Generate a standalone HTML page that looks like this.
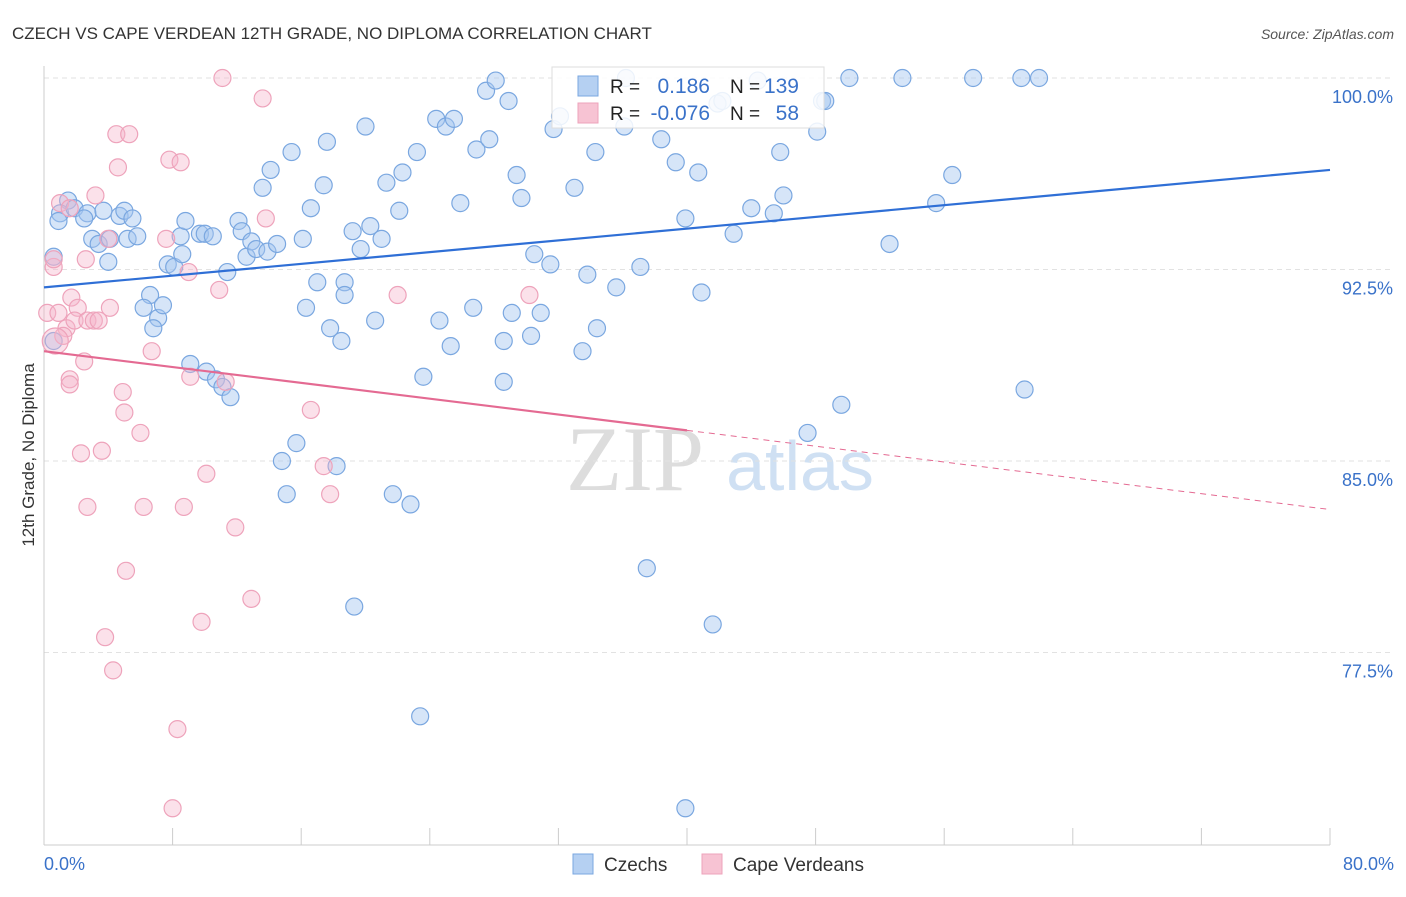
<!DOCTYPE html>
<html><head><meta charset="utf-8"><style>
body{margin:0;background:#fff;font-family:"Liberation Sans",sans-serif;}
svg text{font-family:"Liberation Sans",sans-serif;}
</style></head><body>
<svg id="chart" width="1406" height="892">
<text x="12" y="39" font-size="17" fill="#333">CZECH VS CAPE VERDEAN 12TH GRADE, NO DIPLOMA CORRELATION CHART</text>
<text x="1394" y="39" font-size="14" fill="#555" text-anchor="end" font-style="italic">Source: ZipAtlas.com</text>
<text transform="translate(34,455) rotate(-90)" font-size="17" fill="#333" text-anchor="middle">12th Grade, No Diploma</text>
<g id="watermark">
<text x="635" y="490" font-size="92" fill="#ddd" text-anchor="middle" font-family="Liberation Serif,serif" style="font-family:'Liberation Serif',serif">ZIP</text>
<text x="800" y="490" font-size="70" fill="#cfe0f3" text-anchor="middle">atlas</text>
</g>
<g id="grid"></g><g id="axes"></g><g id="pts"></g><g id="trends"></g>
<g>
<rect x="552" y="67" width="272" height="61" fill="#fff" fill-opacity="0.85" stroke="#ddd"/>
<rect x="578" y="76" width="20" height="20" fill="#b5d0f2" stroke="#7aa7e0"/>
<rect x="578" y="103" width="20" height="20" fill="#f7c3d3" stroke="#eea3bb"/>
<text x="610" y="93" font-size="19" fill="#222">R =</text>
<text x="710" y="93" font-size="21" fill="#3a72c9" text-anchor="end">0.186</text>
<text x="730" y="93" font-size="19" fill="#222">N =</text>
<text x="799" y="93" font-size="21" fill="#3a72c9" text-anchor="end">139</text>
<text x="610" y="120" font-size="19" fill="#222">R =</text>
<text x="710" y="120" font-size="21" fill="#3a72c9" text-anchor="end">-0.076</text>
<text x="730" y="120" font-size="19" fill="#222">N =</text>
<text x="799" y="120" font-size="21" fill="#3a72c9" text-anchor="end">58</text>
</g>
<g>
<rect x="573" y="854" width="20" height="20" fill="#b5d0f2" stroke="#7aa7e0"/>
<text x="604" y="871" font-size="19" fill="#333">Czechs</text>
<rect x="702" y="854" width="20" height="20" fill="#f7c3d3" stroke="#eea3bb"/>
<text x="733" y="871" font-size="19" fill="#333">Cape Verdeans</text>
</g>
</svg>
<script>
const xTickVals=[0,8,16,24,32,40,48,56,64,72,80];
const yTickVals=[100,92.5,85,77.5];
const yTickLabels=["100.0%","92.5%","85.0%","77.5%"];
const xEndLabels=["0.0%","80.0%"];
const czechX=[1.5,1.0,1.9,2.7,3.7,4.7,5.0,5.5,0.9,2.5,3.0,3.4,4.1,5.2,5.8,4.0,7.7,8.1,8.5,8.6,8.8,9.7,10.0,10.5,11.4,12.1,12.3,12.6,12.9,13.2,13.9,14.5,13.6,14.1,15.4,16.1,16.6,17.0,17.4,17.6,18.7,20.0,19.2,19.7,20.3,21.0,21.3,22.1,22.3,23.2,24.4,25.0,25.5,25.9,26.9,27.7,27.5,28.1,28.9,29.4,29.7,30.5,31.5,31.7,32.1,33.0,33.8,34.3,35.6,36.1,36.2,37.1,38.4,39.3,39.9,40.7,40.9,41.9,42.2,42.9,44.0,44.4,45.4,45.8,46.0,48.1,48.4,48.6,50.1,53.4,52.6,55.5,56.5,57.8,60.8,61.9,61.0,49.6,47.5,41.6,37.5,39.9,23.4,19.3,22.8,21.7,15.1,14.8,15.7,18.2,16.3,17.8,18.5,18.7,20.6,23.6,24.6,25.3,26.7,28.6,28.6,29.1,30.3,30.9,33.5,34.4,6.6,6.2,7.1,7.4,6.8,9.1,10.1,10.7,11.1,11.6,0.6,0.6];
const czechY=[95.2,94.7,94.9,94.7,94.8,94.6,94.8,94.5,94.4,94.5,93.7,93.5,93.7,93.7,93.8,92.8,92.7,92.6,93.8,93.1,94.4,93.9,93.9,93.8,92.4,94.4,94.0,93.0,93.6,93.3,93.2,93.5,95.7,96.4,97.1,93.7,94.9,92.0,95.8,97.5,92.0,98.1,94.0,93.3,94.2,93.7,95.9,94.8,96.3,97.1,98.4,98.1,98.4,95.1,97.2,97.6,99.5,99.9,99.1,96.2,95.3,93.1,92.7,98.0,98.5,95.7,92.3,97.1,91.8,98.1,100.0,92.6,97.6,96.7,94.5,96.3,91.6,99.0,99.1,93.9,94.9,99.9,94.7,97.1,95.4,97.9,99.1,99.1,100.0,100.0,93.5,95.1,96.2,100.0,100.0,100.0,87.8,87.2,86.1,78.6,80.8,71.4,75.0,79.3,83.3,83.7,83.7,85.0,85.7,84.8,91.0,90.2,89.7,91.5,90.5,88.3,90.5,89.5,91.0,88.1,89.7,90.8,89.9,90.8,89.3,90.2,91.5,91.0,90.6,91.1,90.2,88.8,88.5,88.2,87.9,87.5,93.0,89.7];
const capeX=[11.1,13.6,4.5,5.3,4.6,7.8,8.5,3.2,1.0,1.6,13.8,7.6,4.0,2.6,0.6,9.0,10.9,1.7,2.1,4.1,0.2,0.9,1.4,1.9,2.7,3.1,3.4,1.2,2.5,6.7,1.6,1.6,9.1,11.3,4.9,5.0,16.6,6.0,2.3,3.6,10.1,17.4,17.8,2.7,6.2,8.7,11.9,5.1,12.9,9.8,3.8,4.3,8.3,8.0,22.0,30.2,0.7,0.6];
const capeY=[100.0,99.2,97.8,97.8,96.5,96.8,96.7,95.4,95.1,94.9,94.5,93.7,93.7,92.9,92.6,92.4,91.7,91.4,91.0,91.0,90.8,90.8,90.2,90.5,90.5,90.5,90.5,89.9,88.9,89.3,88.2,88.0,88.3,88.1,87.7,86.9,87.0,86.1,85.3,85.4,84.5,84.8,83.7,83.2,83.2,83.2,82.4,80.7,79.6,78.7,78.1,76.8,74.5,71.4,91.5,91.5,89.7,92.9];
const bigCzech=[140,141];const bigCape=[56];
const czechTrend=[91.8,96.4];
const capeTrend=[89.3,83.1];
const capeSolidEnd=40;

const NS="http://www.w3.org/2000/svg";
const X0=44,X1=1330,YTOP=78,PX75=191.5;
function sx(v){return X0+(v/80)*(X1-X0);}
function sy(v){return YTOP+(100-v)/7.5*PX75;}
function mk(t,a,p){const e=document.createElementNS(NS,t);for(const k in a)e.setAttribute(k,a[k]);p.appendChild(e);return e;}
const grid=document.getElementById('grid'),axes=document.getElementById('axes'),pts=document.getElementById('pts'),tr=document.getElementById('trends');
yTickVals.forEach((v,i)=>{
 const l=mk('line',{x1:X0,x2:1394,y1:sy(v),y2:sy(v),stroke:'#e2e2e2','stroke-dasharray':'5,4'},grid);
 
 
 const t=mk('text',{x:1393,y:sy(v)+25,'font-size':18,fill:'#3a72c9','text-anchor':'end'},axes);
 t.textContent=yTickLabels[i];
 
 
});
let a=mk('line',{x1:X0,x2:X0,y1:66,y2:845,stroke:'#ccc'},axes);


a=mk('line',{x1:X0,x2:X1,y1:845,y2:845,stroke:'#ccc'},axes);


xTickVals.forEach(v=>{
 const l=mk('line',{x1:sx(v),x2:sx(v),y1:828,y2:845,stroke:'#ccc'},axes);
 
 
});
[[0,'start',44],[80,'end',1394]].forEach((d,i)=>{
 const t=mk('text',{x:d[2],y:870,'font-size':18,fill:'#3a72c9','text-anchor':d[1]},axes);
 t.textContent=xEndLabels[i];
 
 
});
function dots(xs,ys,big,fill,stroke,name){
 xs.forEach((x,i)=>{
  const r=big.includes(i)?13:8.5;
  const c=mk('circle',{cx:sx(x),cy:sy(ys[i]),r:r,fill:fill,stroke:stroke,'stroke-width':1.2},pts);
  
  
 });
}
dots(czechX,czechY,bigCzech,'rgba(165,198,240,0.45)','#7aa7e0','czech-point');
dots(capeX,capeY,bigCape,'rgba(246,180,202,0.4)','#eea3bb','cape-verdean-point');
let L=mk('line',{x1:sx(0),y1:sy(czechTrend[0]),x2:sx(80),y2:sy(czechTrend[1]),stroke:'#2f6fd6','stroke-width':2.2},tr);


const midY=capeTrend[0]+(capeTrend[1]-capeTrend[0])*capeSolidEnd/80;
L=mk('line',{x1:sx(0),y1:sy(capeTrend[0]),x2:sx(capeSolidEnd),y2:sy(midY),stroke:'#e46a92','stroke-width':2.2},tr);


L=mk('line',{x1:sx(capeSolidEnd),y1:sy(midY),x2:sx(80),y2:sy(capeTrend[1]),stroke:'#e46a92','stroke-width':1,'stroke-dasharray':'6,5'},tr);


</script>
</body></html>
